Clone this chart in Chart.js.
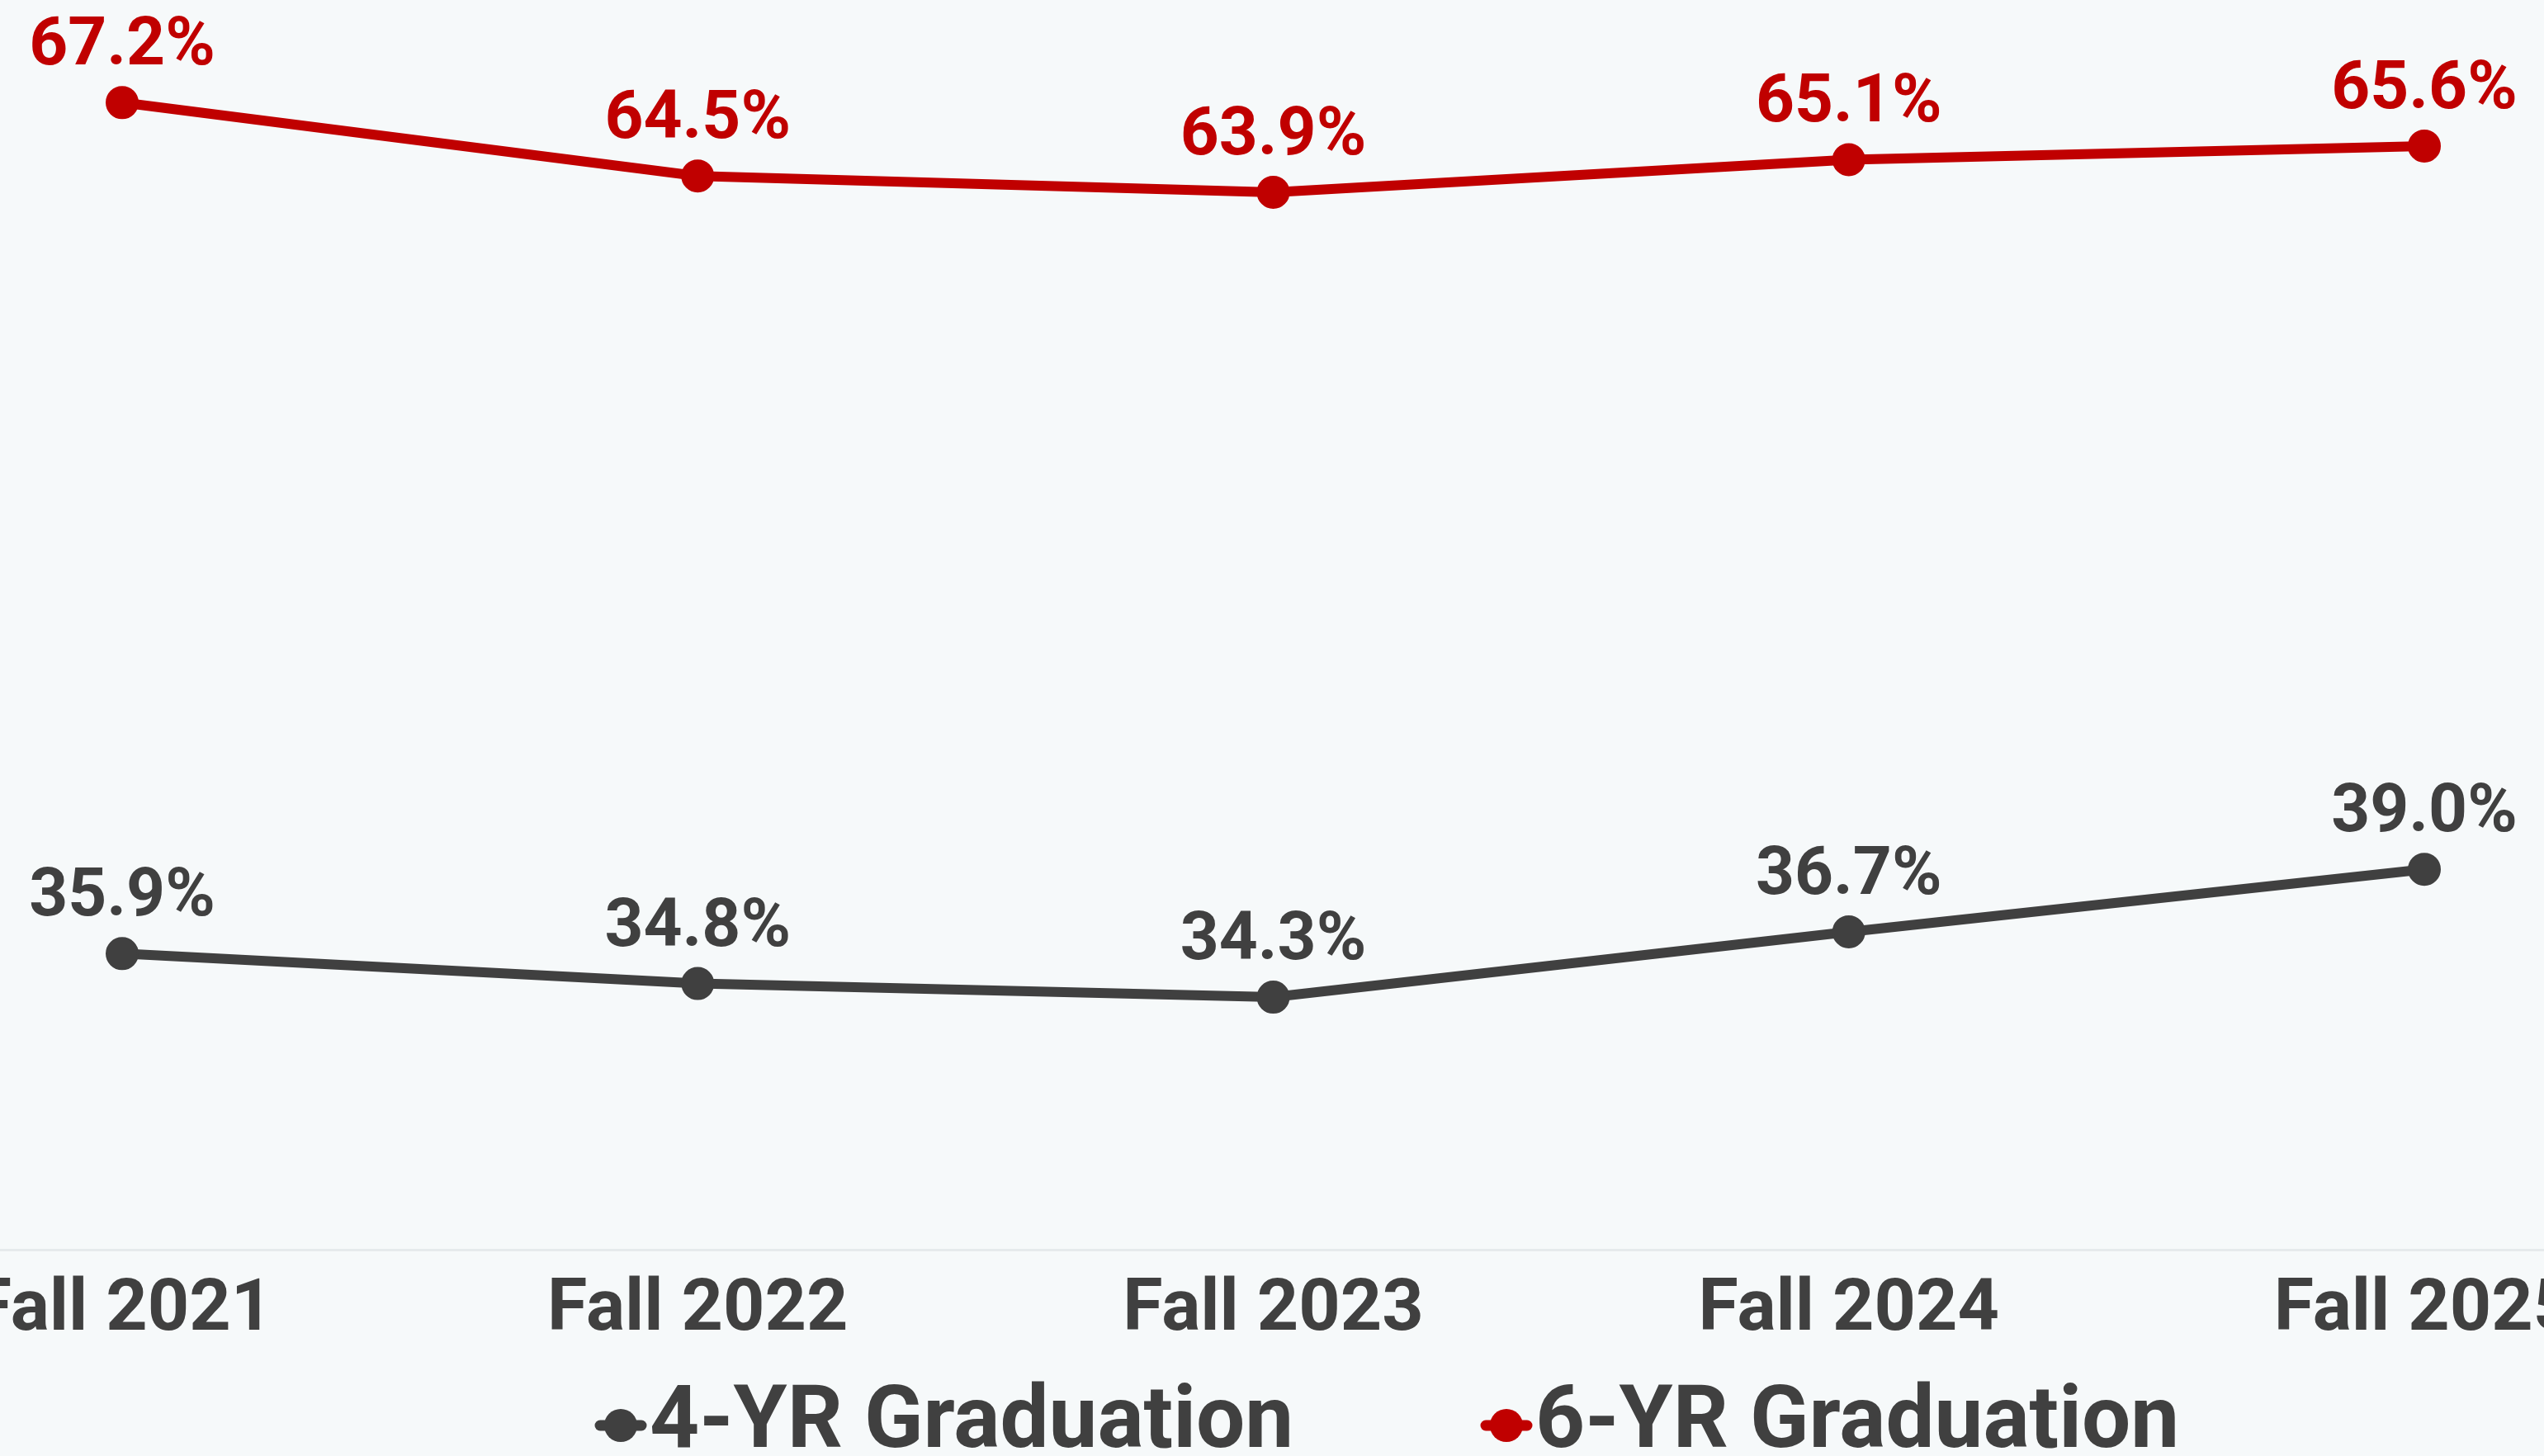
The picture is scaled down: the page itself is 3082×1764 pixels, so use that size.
<!DOCTYPE html>
<html><head><meta charset="utf-8">
<script src="https://cdn.jsdelivr.net/npm/chart.js@4.4.1/dist/chart.umd.min.js"></script>
<style>
html,body{margin:0;padding:0;background:#f6f9fa;overflow:hidden}
#wrap{width:3082px;height:1764px;position:relative}
</style></head><body>
<div id="wrap"><canvas id="c"></canvas></div>
<script>
// ---- data ----
const categories = ['Fall 2021', 'Fall 2022', 'Fall 2023', 'Fall 2024', 'Fall 2025'];
const seriesNames = ['4-YR Graduation', '6-YR Graduation'];
const grad4yr = [35.9, 34.8, 34.3, 36.7, 39.0];
const grad6yr = [67.2, 64.5, 63.9, 65.1, 65.6];
const yMin = 25;
const yMax = 70;

// ---- style ----
const RED = '#c00000';
const GRAY = '#404040';
const AXIS = '#e6eaec';
const FONT = 'Roboto';
const LEGEND_FONT = 105;
const LEGEND_X = 733.5;     // left of first legend item
const LEGEND_MID = 1727;    // vertical middle of legend row
const ITEM_GAP = 1073;      // distance between legend item starts

function makeMarker(color, off) {
  const c = document.createElement('canvas');
  const half = Math.ceil(Math.abs(off) + 36);
  c.width = half * 2; c.height = 44;
  const g = c.getContext('2d');
  const cx = half + off, cy = 22;
  g.strokeStyle = color; g.lineWidth = 13; g.lineCap = 'round';
  g.beginPath(); g.moveTo(cx - 25, cy); g.lineTo(cx + 25, cy); g.stroke();
  g.fillStyle = color; g.beginPath(); g.arc(cx, cy, 20, 0, Math.PI * 2); g.fill();
  return c;
}
const markerOff = 0.5 + LEGEND_FONT / 2 - 35;
const markers = [makeMarker(GRAY, markerOff), makeMarker(RED, markerOff)];

const mctx = document.createElement('canvas').getContext('2d');
mctx.font = `bold ${LEGEND_FONT}px ${FONT}`;
const tw1 = mctx.measureText(seriesNames[0]).width;
const legendPad = Math.max(10, ITEM_GAP - (1 + LEGEND_FONT / 2 + tw1));

const axisLine = {
  id: 'axisLine',
  beforeDatasetsDraw(chart) {
    const ctx = chart.ctx;
    const y = Math.round(chart.scales.x.top) + 0.5;
    ctx.save();
    ctx.strokeStyle = AXIS;
    ctx.lineWidth = 3;
    ctx.beginPath(); ctx.moveTo(0, y); ctx.lineTo(chart.width, y); ctx.stroke();
    ctx.restore();
  }
};

const valueLabels = {
  id: 'valueLabels',
  afterDatasetsDraw(chart) {
    const ctx = chart.ctx;
    chart.data.datasets.forEach((ds, i) => {
      const meta = chart.getDatasetMeta(i);
      ctx.save();
      ctx.font = `bold 82px ${FONT}`;
      ctx.fillStyle = ds.borderColor;
      ctx.textAlign = 'center';
      ctx.textBaseline = 'alphabetic';
      meta.data.forEach((pt, j) => {
        ctx.fillText(ds.data[j].toFixed(1) + '%', pt.x, pt.y - 46);
      });
      ctx.restore();
    });
  }
};

const legendPlace = {
  id: 'legendPlace',
  afterLayout(chart) {
    const lg = chart.legend;
    if (!lg || !lg.lineWidths) return;
    const pad = lg.options.labels.padding;
    const x1 = (lg.left + pad + lg.right - lg.lineWidths[0]) / 2;
    const dx = LEGEND_X - x1;
    lg.left += dx; lg.right += dx;
    lg.top = LEGEND_MID - pad - LEGEND_FONT / 2;
    lg.bottom = chart.height;
    lg.height = lg.bottom - lg.top;
  }
};

new Chart(document.getElementById('c'), {
  type: 'line',
  data: {
    labels: categories,
    datasets: [
      { label: seriesNames[0], data: grad4yr, borderColor: GRAY, backgroundColor: GRAY,
        pointBackgroundColor: GRAY, pointBorderColor: GRAY, borderWidth: 12,
        pointRadius: 19, pointBorderWidth: 2, pointHoverRadius: 19, tension: 0, clip: false },
      { label: seriesNames[1], data: grad6yr, borderColor: RED, backgroundColor: RED,
        pointBackgroundColor: RED, pointBorderColor: RED, borderWidth: 12,
        pointRadius: 19, pointBorderWidth: 2, pointHoverRadius: 19, tension: 0, clip: false }
    ]
  },
  options: {
    responsive: true,
    maintainAspectRatio: false,
    animation: false,
    devicePixelRatio: 1,
    events: [],
    layout: { padding: { top: 32, left: 148, right: 145, bottom: 0 } },
    scales: {
      x: {
        grid: { display: false, drawTicks: false },
        border: { display: false },
        ticks: { color: GRAY, font: { family: FONT, size: 88, weight: 'bold' }, padding: 22,
                 maxRotation: 0, autoSkip: false },
        afterFit(s) { s.paddingLeft = 0; s.paddingRight = 0; }
      },
      y: { display: false, min: yMin, max: yMax }
    },
    plugins: {
      tooltip: { enabled: false },
      legend: {
        position: 'bottom',
        maxHeight: 100,
        labels: {
          color: GRAY,
          font: { family: FONT, size: LEGEND_FONT, weight: 'bold' },
          usePointStyle: true,
          boxWidth: 1,
          padding: legendPad,
          generateLabels(chart) {
            return Chart.defaults.plugins.legend.labels.generateLabels(chart)
              .map((l, i) => Object.assign(l, { pointStyle: markers[i] }));
          }
        }
      }
    }
  },
  plugins: [axisLine, valueLabels, legendPlace]
});
</script>
</body></html>
